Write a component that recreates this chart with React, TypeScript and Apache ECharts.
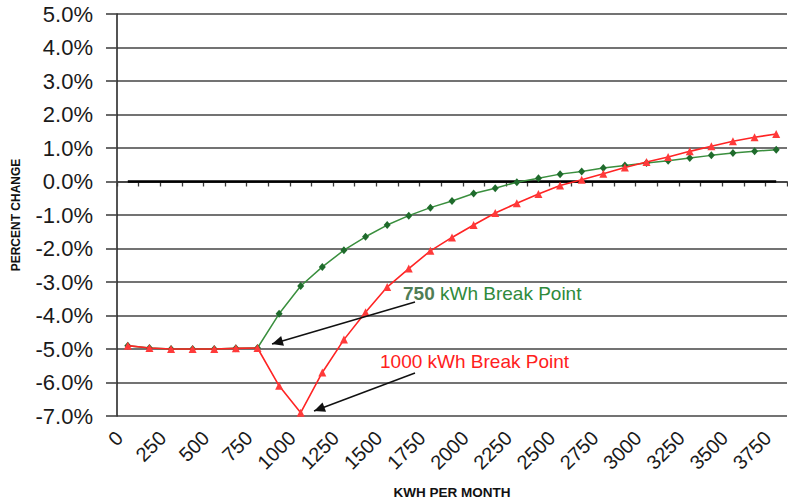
import React, { useEffect, useRef } from "react";
import * as echarts from "echarts";

const kwhCategories = [
  "0", "125", "250", "375", "500", "625", "750", "875", "1000", "1125",
  "1250", "1375", "1500", "1625", "1750", "1875", "2000", "2125", "2250", "2375",
  "2500", "2625", "2750", "2875", "3000", "3125", "3250", "3375", "3500", "3625",
  "3750",
];

// 750 kWh break point (green)
const breakPoint750 = [
  -4.9, -4.97, -5.0, -5.0, -5.0, -4.98, -4.97, -3.95, -3.12, -2.55,
  -2.05, -1.65, -1.3, -1.02, -0.78, -0.58, -0.36, -0.2, -0.02, 0.1,
  0.22, 0.3, 0.4, 0.48, 0.55, 0.62, 0.7, 0.78, 0.85, 0.9,
  0.95,
];

// 1000 kWh break point (red)
const breakPoint1000 = [
  -4.9, -4.97, -5.0, -5.0, -5.0, -4.98, -4.97, -6.1, -6.9, -5.7,
  -4.72, -3.9, -3.15, -2.6, -2.07, -1.67, -1.3, -0.94, -0.65, -0.37,
  -0.12, 0.05, 0.23, 0.42, 0.58, 0.73, 0.9, 1.05, 1.2, 1.32,
  1.42,
];

// zero reference series
const zeroLine = [
  0, 0, 0, 0, 0, 0, 0, 0, 0, 0,
  0, 0, 0, 0, 0, 0, 0, 0, 0, 0,
  0, 0, 0, 0, 0, 0, 0, 0, 0, 0,
  0,
];

const FONT = "'Liberation Sans', Arial, Helvetica, sans-serif";

function arrowHead(x1: number, y1: number, x2: number, y2: number, len: number, half: number) {
  const dx = x2 - x1;
  const dy = y2 - y1;
  const d = Math.sqrt(dx * dx + dy * dy);
  const ux = dx / d;
  const uy = dy / d;
  const bx = x2 - ux * len;
  const by = y2 - uy * len;
  return [
    [x2, y2],
    [bx - uy * half, by + ux * half],
    [bx + uy * half, by - ux * half],
  ];
}

export default function App() {
  const ref = useRef<HTMLDivElement>(null);

  useEffect(() => {
    if (!ref.current) return;
    const chart = echarts.init(ref.current, null, { renderer: "svg" });

    const a1 = { x1: 415, y1: 302, x2: 272, y2: 344 };
    const a2 = { x1: 415, y1: 373, x2: 314, y2: 411 };

    const option: any = {
      animation: false,
      backgroundColor: "#ffffff",
      grid: { left: 117, right: 1, top: 14, bottom: 88, containLabel: false },
      xAxis: {
        type: "category",
        data: kwhCategories,
        boundaryGap: true,
        name: "KWH PER MONTH",
        nameLocation: "middle",
        nameGap: 69,
        nameTextStyle: { fontFamily: FONT, fontWeight: "bold", fontSize: 13.5, color: "#111" },
        axisLine: { show: true, lineStyle: { color: "#3a3a3a", width: 1.6 } },
        axisTick: { show: true, interval: 0, alignWithLabel: false, length: 5, lineStyle: { color: "#3a3a3a", width: 1.3 } },
        axisLabel: {
          interval: 1,
          rotate: 45,
          fontSize: 20,
          fontFamily: FONT,
          color: "#1a1a1a",
          margin: 10,
          padding: [0, 12, 0, 0],
        },
        splitLine: { show: false },
      },
      yAxis: {
        type: "value",
        min: -7,
        max: 5,
        interval: 1,
        name: "PERCENT CHANGE",
        nameLocation: "middle",
        nameGap: 95,
        nameRotate: 90,
        nameTextStyle: { fontFamily: FONT, fontWeight: "bold", fontSize: 12, color: "#111" },
        axisLine: { show: true, lineStyle: { color: "#2a2a2a", width: 1.6 } },
        axisTick: { show: true, length: 11, lineStyle: { color: "#444", width: 1.6 } },
        axisLabel: {
          formatter: (v: number) => v.toFixed(1) + "%",
          fontSize: 22,
          fontFamily: FONT,
          color: "#1a1a1a",
          margin: 24,
        },
        splitLine: { show: true, lineStyle: { color: "#444", width: 1.6 } },
      },
      series: [
        {
          name: "zero",
          type: "line",
          data: zeroLine,
          symbol: "none",
          lineStyle: { color: "#000", width: 2.6 },
          silent: true,
          z: 2,
        },
        {
          name: "750 kWh Break Point",
          type: "line",
          data: breakPoint750,
          symbol: "diamond",
          symbolSize: [7, 8],
          lineStyle: { color: "#3a8f3e", width: 1.5 },
          itemStyle: { color: "#1f6b2c" },
          z: 3,
        },
        {
          name: "1000 kWh Break Point",
          type: "line",
          data: breakPoint1000,
          symbol: "triangle",
          symbolSize: 8,
          lineStyle: { color: "#ff2424", width: 1.6 },
          itemStyle: { color: "#ff3a3a" },
          z: 4,
        },
      ],
      graphic: [
        {
          type: "line",
          shape: a1,
          style: { stroke: "#111", lineWidth: 1.5 },
          z: 10,
        },
        {
          type: "polygon",
          shape: { points: arrowHead(a1.x1, a1.y1, a1.x2, a1.y2, 11, 5) },
          style: { fill: "#111" },
          z: 10,
        },
        {
          type: "line",
          shape: a2,
          style: { stroke: "#111", lineWidth: 1.5 },
          z: 10,
        },
        {
          type: "polygon",
          shape: { points: arrowHead(a2.x1, a2.y1, a2.x2, a2.y2, 11, 5) },
          style: { fill: "#111" },
          z: 10,
        },
        {
          type: "text",
          x: 403,
          y: 293,
          style: {
            text: "{a|750} {b|kWh Break Point}",
            verticalAlign: "middle",
            rich: {
              a: { fontFamily: FONT, fontSize: 19, fill: "#4f7d55", fontWeight: "bold" },
              b: { fontFamily: FONT, fontSize: 19, fill: "#2f8a3c" },
            },
            fontFamily: FONT,
            fontSize: 19,
          },
          z: 11,
        },
        {
          type: "text",
          x: 380,
          y: 361,
          style: {
            text: "1000 kWh Break Point",
            verticalAlign: "middle",
            fontFamily: FONT,
            fontSize: 19,
            fill: "#ff2020",
          },
          z: 11,
        },
      ],
    };

    chart.setOption(option);
    return () => chart.dispose();
  }, []);

  return (
    <div
      ref={ref}
      style={{ position: "fixed", left: 0, top: 0, width: 788, height: 504, background: "#fff" }}
    />
  );
}
